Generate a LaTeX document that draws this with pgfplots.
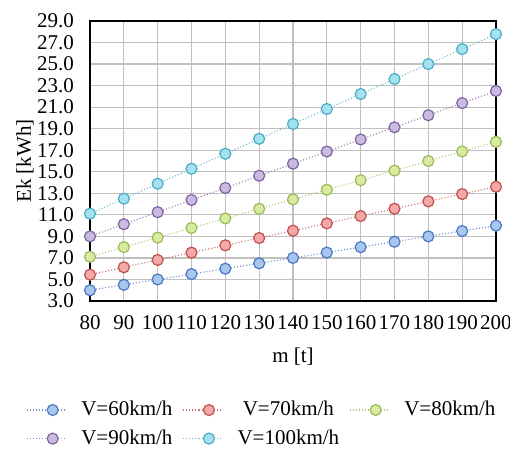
\documentclass[border=0pt]{standalone}
\usepackage{fontspec}
\setmainfont{Liberation Serif}
\usepackage{pgfplots}
\pgfplotsset{compat=1.18}
\definecolor{gridgray}{HTML}{C0C0C0}
\definecolor{bEdge}{HTML}{4A78C2}\definecolor{bFill}{HTML}{A9C6EE}
\definecolor{rEdge}{HTML}{C0504D}\definecolor{rFill}{HTML}{F2A9A8}
\definecolor{gEdge}{HTML}{9BBB59}\definecolor{gFill}{HTML}{D9EBA2}
\definecolor{pEdge}{HTML}{8064A2}\definecolor{pFill}{HTML}{C9BBE0}
\definecolor{cEdge}{HTML}{4BACC6}\definecolor{cFill}{HTML}{A5E2F0}
\begin{document}
\begin{tikzpicture}
\begin{axis}[
  scale only axis, width=203pt, height=140pt,
  xmin=80, xmax=200, ymin=3, ymax=29,
  xtick={80,90,...,200}, ytick={3,5,...,29},
  grid=major, major grid style={color=gridgray, line width=0.65pt},
  axis line style={line width=0.9pt, black},
  tick style={draw=none},
  clip=false,
  /pgf/number format/assume math mode=true,
  ticklabel style={font=\fontsize{10.5}{12}\selectfont},
  yticklabel={\pgfmathprintnumber[fixed,fixed zerofill,precision=1]{\tick}},
  xticklabel style={yshift=-3.5pt},
  yticklabel style={xshift=-4.5pt},
  xlabel={m [t]}, ylabel={Ek [kWh]},
  label style={font=\fontsize{10.5}{12}\selectfont},
  xlabel style={at={(axis description cs:0.5,-0.2)}, anchor=center},
  ylabel style={at={(axis description cs:-0.16,0.5)}, anchor=center},
  every axis plot/.append style={densely dotted, line width=0.55pt, mark=*, mark size=2.75pt},
  legend columns=3,
  legend style={at={(axis description cs:-0.173,-0.328)}, anchor=north west, draw=none, fill=none,
    font=\fontsize{10.5}{12}\selectfont, row sep=1.5pt,
    /tikz/every odd column/.append style={column sep=5pt},
    /tikz/every even column/.append style={column sep=3pt}},
  legend image code/.code={\draw[mark repeat=2,mark phase=2] plot coordinates {(0pt,0pt) (13pt,0pt) (20pt,0pt)};},
]
\addplot[color=bEdge!80!white, mark options={solid, fill=bFill, draw=bEdge, line width=0.6pt}] coordinates {
(80,4.00)(90,4.50)(100,5.00)(110,5.50)(120,6.00)(130,6.50)(140,7.00)(150,7.50)(160,8.00)(170,8.50)(180,9.00)(190,9.50)(200,10.00)};
\addlegendentry{V=60km/h}
\addplot[color=rEdge!80!white, mark options={solid, fill=rFill, draw=rEdge, line width=0.6pt}] coordinates {
(80,5.44)(90,6.13)(100,6.81)(110,7.49)(120,8.17)(130,8.85)(140,9.53)(150,10.21)(160,10.89)(170,11.57)(180,12.25)(190,12.93)(200,13.61)};
\addlegendentry{V=70km/h}
\addplot[color=gEdge!80!white, mark options={solid, fill=gFill, draw=gEdge, line width=0.6pt}] coordinates {
(80,7.11)(90,8.00)(100,8.89)(110,9.78)(120,10.67)(130,11.56)(140,12.44)(150,13.33)(160,14.22)(170,15.11)(180,16.00)(190,16.89)(200,17.78)};
\addlegendentry{V=80km/h}
\addplot[color=pEdge!80!white, mark options={solid, fill=pFill, draw=pEdge, line width=0.6pt}] coordinates {
(80,9.00)(90,10.13)(100,11.25)(110,12.38)(120,13.50)(130,14.63)(140,15.75)(150,16.88)(160,18.00)(170,19.13)(180,20.25)(190,21.38)(200,22.50)};
\addlegendentry{V=90km/h}
\addplot[color=cEdge!80!white, mark options={solid, fill=cFill, draw=cEdge, line width=0.6pt}] coordinates {
(80,11.11)(90,12.50)(100,13.89)(110,15.28)(120,16.67)(130,18.06)(140,19.44)(150,20.83)(160,22.22)(170,23.61)(180,25.00)(190,26.39)(200,27.78)};
\addlegendentry{V=100km/h}
\coordinate (bl) at (rel axis cs:0,0);
\end{axis}
\pgfresetboundingbox
\path (bl) ++(-45pt,-74.5pt) rectangle ++(255pt,225pt);
\end{tikzpicture}
\end{document}
